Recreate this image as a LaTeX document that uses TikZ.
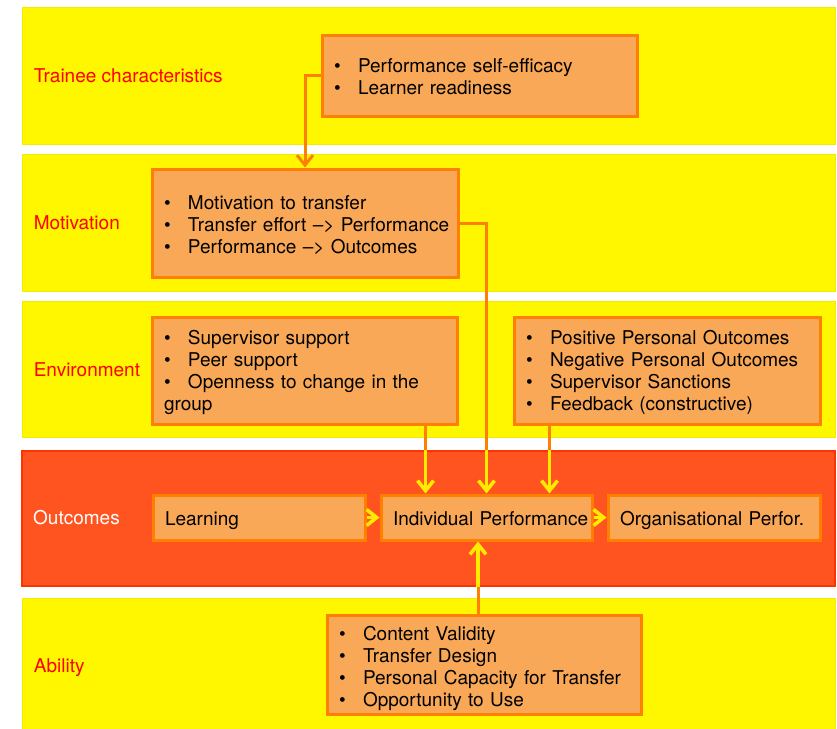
\documentclass[tikz,border=0pt]{standalone}
\usepackage{fontspec}
\setmainfont{TeX Gyre Heros}
\usepackage{tikz}
\usetikzlibrary{arrows.meta, positioning}
\definecolor{bandyellow}{HTML}{FFF700}
\definecolor{bandedge}{HTML}{F2EA00}
\definecolor{outred}{HTML}{FF5320}
\definecolor{outedge}{HTML}{FF3300}
\definecolor{boxfill}{HTML}{F9A857}
\definecolor{boxline}{HTML}{FF7F00}
\definecolor{linkyellow}{HTML}{FFEB00}
\newcommand{\itm}[1]{\par\hangindent=24pt\hangafter=1\noindent\makebox[24pt][l]{\textbullet}\mbox{#1}}
\tikzset{
  >={Straight Barb[length=10pt,width=16pt]}, % open chevron heads
  band/.style={fill=bandyellow, draw=bandedge, line width=0.8pt, minimum width=813pt, minimum height=137pt, inner sep=0pt},
  outband/.style={band, fill=outred, draw=outedge, line width=2pt, minimum height=135pt},
  lbl/.style={font=\fontsize{19}{22}\selectfont, text=red, anchor=west, inner sep=0pt},
  box/.style={fill=boxfill, draw=boxline, line width=3pt, inner xsep=12pt, inner ysep=0pt, align=left, font=\fontsize{19}{22}\selectfont},
  onerow/.style={box, text width=188pt, minimum height=45pt, text height=16pt, text depth=0pt},
  textlift/.style={execute at begin node={\vspace*{-#1}}, execute at end node={\par\vspace*{#1}}},
  orangelink/.style={draw=boxline, line width=3pt},
  yellowlink/.style={draw=linkyellow, line width=3.6pt},
}
\begin{document}
\begin{tikzpicture}[x=1pt,y=1pt]
  \useasboundingbox (0,0) rectangle (837,-728);
  % bands
  \node[band] (trainee) at (428.5,-75.5) {};
  \node[band, below=9.5pt of trainee] (motiv) {};
  \node[band, below=9.5pt of motiv, minimum height=136pt] (environ) {};
  \node[outband, below=11.5pt of environ] (outcomes) {};
  \node[band, below=11.5pt of outcomes] (ability) {};

  \node[lbl] (lbltrainee) at ([xshift=12pt,yshift=-0.5pt]trainee.west) {Trainee characteristics};
  \node[lbl] (lblmotiv) at ([xshift=12pt]motiv.west) {Motivation};
  \node[lbl] (lblenviron) at ([xshift=12pt]environ.west) {Environment};
  \node[lbl, text=white] (lbloutcomes) at ([xshift=12pt]outcomes.west) {Outcomes};
  \node[lbl] (lblability) at ([xshift=12pt,yshift=-1pt]ability.west) {Ability};

  % factor boxes
  \node[box, textlift=3pt, text width=291pt, minimum height=81pt] (tcbox) at (479.5,-75.5)
    {\itm{Performance self-efficacy}\itm{Learner readiness}};
  \node[box, textlift=2pt, text width=282pt, minimum height=108pt] (motbox) at (305,-223)
    {\itm{Motivation to transfer}\itm{Transfer effort –> Performance}\itm{Performance –> Outcomes}};
  \node[box, textlift=1.5pt, text width=281pt, minimum height=107pt] (envL) at (304.5,-370.5)
    {\itm{Supervisor support}\itm{Peer support}\itm{Openness to change in the}\newline group};
  \node[box, textlift=1.5pt, text width=282pt, minimum height=107pt] (envR) at (667,-370.5)
    {\itm{Positive Personal Outcomes}\itm{Negative Personal Outcomes}\itm{Supervisor Sanctions}\itm{Feedback (constructive)}};
  \node[box, text width=290pt, minimum height=99pt] (abil) at (484,-664.5)
    {\itm{Content Validity}\itm{Transfer Design}\itm{Personal Capacity for Transfer}\itm{Opportunity to Use}};

  % outcome row
  \node[onerow] (learn) at (259,-517.5) {\mbox{Learning}};
  \node[onerow, text width=187pt, right=13pt of learn] (indiv) {\mbox{Individual Performance}};
  \node[onerow, right=13pt of indiv] (org) {\mbox{Organisational Perfor.}};

  % links
  \draw[orangelink, ->] (tcbox.west) -| (motbox.north);
  \draw[orangelink] (motbox.east) -| (indiv.north |- outcomes.north);
  \draw[yellowlink, ->] (indiv.north |- outcomes.north) -- (indiv.north);
  \coordinate (envLout) at ([xshift=-33pt]envL.south east);
  \draw[orangelink] (envLout) -- (envLout |- outcomes.north);
  \draw[yellowlink, ->] (envLout |- outcomes.north) -- (envLout |- indiv.north);
  \coordinate (envRout) at ([xshift=37pt]envR.south west);
  \draw[orangelink] (envRout) -- (envRout |- outcomes.north);
  \draw[yellowlink, ->] (envRout |- outcomes.north) -- (envRout |- indiv.north);
  \coordinate (abilout) at ([xshift=-6pt]abil.north);
  \draw[orangelink] (abilout) -- (abilout |- outcomes.south);
  \draw[yellowlink, ->] (abilout |- outcomes.south) -- (abilout |- indiv.south);
  \draw[yellowlink, ->] (learn) -- (indiv);
  \draw[yellowlink, ->] (indiv) -- (org);
\end{tikzpicture}
\end{document}
